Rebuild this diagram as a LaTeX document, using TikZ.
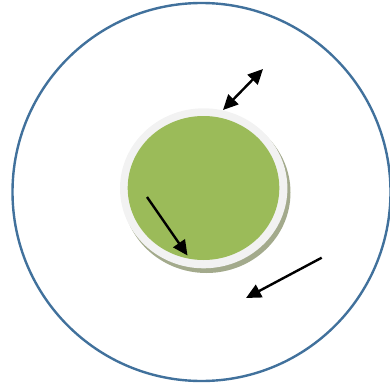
\documentclass[tikz,border=0pt]{standalone}
\usetikzlibrary{arrows.meta}
\definecolor{cellblue}{HTML}{41719C}
\definecolor{cellgreen}{HTML}{9BBB59}
\definecolor{ringgray}{HTML}{F2F2F2}
\definecolor{shadowgray}{HTML}{A3AA8C}
\tikzset{
  arr/.style={line width=2.4pt, -{Triangle[length=15pt,width=14pt]}},
  darr/.style={line width=2.4pt, {Triangle[length=15pt,width=14pt]}-{Triangle[length=15pt,width=14pt]}}
}
\begin{document}
\begin{tikzpicture}[x=1pt,y=-1pt]
\useasboundingbox (0,0) rectangle (390,385);
% outer cell
\draw[cellblue, line width=2.4pt] (201.5,192) circle [radius=189];
% shadow
\fill[shadowgray] (206.5,192.5) ellipse [x radius=84, y radius=80.5];
% ring
\fill[ringgray] (203.7,188.3) ellipse [x radius=83.7, y radius=80];
% green core
\fill[cellgreen] (203.5,188) ellipse [x radius=75.8, y radius=72];
% arrows
\coordinate (a1) at (223,110);
\coordinate (a2) at (263,69);
\coordinate (b1) at (147,197);
\coordinate (b2) at (187.5,255.5);
\coordinate (c1) at (321.7,257.7);
\coordinate (c2) at (246,298);
\draw[darr] (a1) -- (a2);
\draw[arr] (b1) -- (b2);
\draw[arr] (c1) -- (c2);
\end{tikzpicture}
\end{document}
